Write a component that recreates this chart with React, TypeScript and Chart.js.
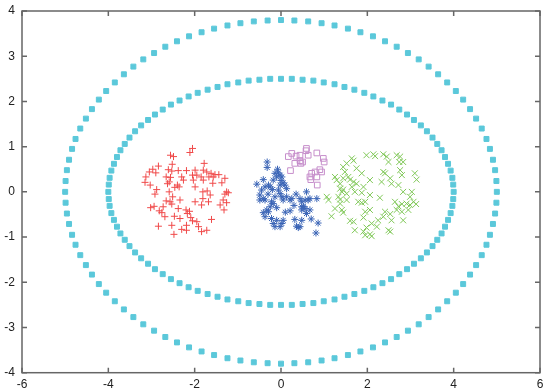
import { useEffect, useRef } from "react";
import { Chart, registerables } from "chart.js";

Chart.register(...registerables);

const xTickValues = [-6, -4, -2, 0, 2, 4, 6];
const yTickValues = [-4, -3, -2, -1, 0, 1, 2, 3, 4];

const outerRing: number[][] = [
  [5, 0], [4.99, 0.24], [4.96, 0.48], [4.91, 0.71], [4.84, 0.95], [4.76, 1.17], [4.65, 1.4], [4.52, 1.62], [4.38, 1.83], [4.22, 2.04], [4.05, 2.23], [3.85, 2.42], [3.64, 2.6], [3.42, 2.77], [3.19, 2.93], [2.94, 3.07], [2.68, 3.21], [2.41, 3.33], [2.13, 3.44], [1.84, 3.53], [1.55, 3.61], [1.24, 3.68], [0.94, 3.73], [0.63, 3.77], [0.31, 3.79],
  [0, 3.8], [-0.31, 3.79], [-0.63, 3.77], [-0.94, 3.73], [-1.24, 3.68], [-1.55, 3.61], [-1.84, 3.53], [-2.13, 3.44], [-2.41, 3.33], [-2.68, 3.21], [-2.94, 3.07], [-3.19, 2.93], [-3.42, 2.77], [-3.64, 2.6], [-3.85, 2.42], [-4.05, 2.23], [-4.22, 2.04], [-4.38, 1.83], [-4.52, 1.62], [-4.65, 1.4], [-4.76, 1.17], [-4.84, 0.95], [-4.91, 0.71], [-4.96, 0.48], [-4.99, 0.24],
  [-5, 0], [-4.99, -0.24], [-4.96, -0.48], [-4.91, -0.71], [-4.84, -0.95], [-4.76, -1.17], [-4.65, -1.4], [-4.52, -1.62], [-4.38, -1.83], [-4.22, -2.04], [-4.05, -2.23], [-3.85, -2.42], [-3.64, -2.6], [-3.42, -2.77], [-3.19, -2.93], [-2.94, -3.07], [-2.68, -3.21], [-2.41, -3.33], [-2.13, -3.44], [-1.84, -3.53], [-1.55, -3.61], [-1.24, -3.68], [-0.94, -3.73], [-0.63, -3.77], [-0.31, -3.79],
  [0, -3.8], [0.31, -3.79], [0.63, -3.77], [0.94, -3.73], [1.24, -3.68], [1.55, -3.61], [1.84, -3.53], [2.13, -3.44], [2.41, -3.33], [2.68, -3.21], [2.94, -3.07], [3.19, -2.93], [3.42, -2.77], [3.64, -2.6], [3.85, -2.42], [4.05, -2.23], [4.22, -2.04], [4.38, -1.83], [4.52, -1.62], [4.65, -1.4], [4.76, -1.17], [4.84, -0.95], [4.91, -0.71], [4.96, -0.48], [4.99, -0.24],
];

const innerRing: number[][] = [
  [4, 0], [3.99, 0.16], [3.97, 0.31], [3.93, 0.47], [3.87, 0.62], [3.8, 0.77], [3.72, 0.92], [3.62, 1.06], [3.51, 1.2], [3.38, 1.34], [3.24, 1.47], [3.08, 1.59], [2.92, 1.71], [2.74, 1.82], [2.55, 1.93], [2.35, 2.02], [2.14, 2.11], [1.93, 2.19], [1.7, 2.26], [1.47, 2.32], [1.24, 2.38], [0.99, 2.42], [0.75, 2.46], [0.5, 2.48], [0.25, 2.5],
  [0, 2.5], [-0.25, 2.5], [-0.5, 2.48], [-0.75, 2.46], [-0.99, 2.42], [-1.24, 2.38], [-1.47, 2.32], [-1.7, 2.26], [-1.93, 2.19], [-2.14, 2.11], [-2.35, 2.02], [-2.55, 1.93], [-2.74, 1.82], [-2.92, 1.71], [-3.08, 1.59], [-3.24, 1.47], [-3.38, 1.34], [-3.51, 1.2], [-3.62, 1.06], [-3.72, 0.92], [-3.8, 0.77], [-3.87, 0.62], [-3.93, 0.47], [-3.97, 0.31], [-3.99, 0.16],
  [-4, 0], [-3.99, -0.16], [-3.97, -0.31], [-3.93, -0.47], [-3.87, -0.62], [-3.8, -0.77], [-3.72, -0.92], [-3.62, -1.06], [-3.51, -1.2], [-3.38, -1.34], [-3.24, -1.47], [-3.08, -1.59], [-2.92, -1.71], [-2.74, -1.82], [-2.55, -1.93], [-2.35, -2.02], [-2.14, -2.11], [-1.93, -2.19], [-1.7, -2.26], [-1.47, -2.32], [-1.24, -2.38], [-0.99, -2.42], [-0.75, -2.46], [-0.5, -2.48], [-0.25, -2.5],
  [0, -2.5], [0.25, -2.5], [0.5, -2.48], [0.75, -2.46], [0.99, -2.42], [1.24, -2.38], [1.47, -2.32], [1.7, -2.26], [1.93, -2.19], [2.14, -2.11], [2.35, -2.02], [2.55, -1.93], [2.74, -1.82], [2.92, -1.71], [3.08, -1.59], [3.24, -1.47], [3.38, -1.34], [3.51, -1.2], [3.62, -1.06], [3.72, -0.92], [3.8, -0.77], [3.87, -0.62], [3.93, -0.47], [3.97, -0.31], [3.99, -0.16],
];

const redCluster: number[][] = [
  [-2.05, 0.96], [-2.11, 0.87], [-2.56, 0.81], [-2.49, 0.78], [-1.78, 0.63], [-2.52, 0.61], [-2.84, 0.57], [-2.97, 0.5], [-3.05, 0.44], [-2.9, 0.42],
  [-2.53, 0.46], [-2.38, 0.47], [-2.19, 0.47], [-1.99, 0.48], [-1.8, 0.48], [-1.72, 0.44], [-1.62, 0.41], [-1.53, 0.38], [-1.44, 0.38], [-3.13, 0.33],
  [-3.15, 0.21], [-2.66, 0.33], [-2.56, 0.32], [-2.3, 0.33], [-2.05, 0.37], [-1.95, 0.37], [-1.85, 0.33], [-1.67, 0.33], [-1.3, 0.3], [-2.03, 0.26],
  [-2.59, 0.22], [-2.4, 0.15], [-2.36, 0.11], [-2.46, 0.1], [-2.63, 0.18], [-3.03, 0.15], [-2.88, 0.05], [-2.92, -0.05], [-1.99, 0.11], [-1.58, 0.19],
  [-1.37, 0.2], [-1.81, 0.0], [-1.71, 0.02], [-1.26, 0.0], [-1.3, -0.05], [-1.22, -0.02], [-2.59, 0.0], [-2.51, -0.11], [-2.66, -0.2], [-2.57, -0.22],
  [-2.53, -0.27], [-1.81, -0.15], [-1.68, -0.22], [-1.99, -0.22], [-1.41, -0.29], [-1.26, -0.24], [-1.84, -0.29], [-2.94, -0.32], [-3.02, -0.35], [-2.38, -0.37],
  [-2.82, -0.42], [-2.76, -0.46], [-2.2, -0.4], [-2.12, -0.43], [-2.17, -0.48], [-1.32, -0.4], [-2.69, -0.55], [-2.47, -0.54], [-2.34, -0.59], [-2.09, -0.57],
  [-2.05, -0.64], [-1.61, -0.61], [-2.84, -0.76], [-2.53, -0.74], [-2.19, -0.74], [-1.91, -0.77], [-2.3, -0.83], [-2.19, -0.85], [-1.84, -0.88], [-1.72, -0.85],
  [-2.48, -0.94], [-1.95, -0.66], [-2.61, 0.49], [-2.26, 0.26], [-1.8, 0.26], [-1.57, 0.33], [-1.64, -0.07], [-2.73, -0.33], [-1.34, -0.18], [-2.34, -0.18],
];

const greenCluster: number[][] = [
  [1.64, 0.74], [1.68, 0.69], [1.52, 0.63], [1.98, 0.81], [2.14, 0.83], [2.18, 0.79], [2.37, 0.83], [2.45, 0.78], [2.49, 0.66], [2.68, 0.81],
  [2.76, 0.78], [2.74, 0.66], [2.83, 0.66], [1.44, 0.55], [1.48, 0.44], [1.75, 0.52], [1.87, 0.41], [1.25, 0.33], [1.29, 0.26], [1.37, 0.18],
  [1.44, 0.3], [1.56, 0.33], [1.6, 0.27], [1.68, 0.22], [1.75, 0.18], [2.06, 0.26], [2.37, 0.44], [2.41, 0.41], [2.76, 0.48], [2.8, 0.37],
  [2.53, 0.3], [2.56, 0.18], [2.33, 0.22], [2.72, 0.15], [2.83, 0.0], [3.1, 0.41], [3.14, 0.27], [1.37, 0.07], [1.41, 0.0], [1.44, 0.05],
  [1.52, -0.04], [1.64, 0.11], [1.71, 0.0], [1.91, 0.11], [1.87, -0.02], [1.06, -0.11], [1.1, -0.18], [1.33, -0.11], [1.37, -0.17], [1.52, -0.18],
  [1.79, -0.22], [1.87, -0.24], [1.95, -0.22], [2.29, -0.13], [2.64, -0.22], [2.72, -0.32], [2.8, -0.27], [2.91, -0.26], [2.99, -0.29], [3.07, -0.22],
  [3.13, -0.27], [1.25, -0.37], [1.41, -0.4], [1.44, -0.46], [1.6, -0.64], [1.68, -0.66], [1.17, -0.54], [1.95, -0.44], [2.06, -0.4], [2.25, -0.63],
  [2.37, -0.55], [2.41, -0.44], [2.53, -0.49], [2.68, -0.4], [2.8, -0.44], [2.56, -0.63], [2.83, -0.63], [1.91, -0.57], [2.1, -0.7], [1.98, -0.79],
  [2.22, -0.77], [1.91, -0.88], [1.95, -0.96], [2.06, -0.94], [2.1, -0.98], [1.71, -0.85], [2.49, -0.85], [2.53, -0.88], [3.03, 0.0], [2.95, -0.4],
  [2.99, -0.11], [2.06, -0.07], [1.37, -0.26],
];

const blueCluster: number[][] = [
  [-0.32, 0.66], [-0.32, 0.54], [-0.56, 0.17], [-0.41, 0.27], [-0.14, 0.41], [-0.06, 0.42], [-0.02, 0.37], [-0.1, 0.33], [0.02, 0.33], [-0.18, 0.26],
  [0.05, 0.2], [-0.29, 0.15], [-0.37, 0.11], [-0.25, 0.11], [-0.02, 0.15], [0.09, 0.15], [0.13, 0.07], [-0.06, 0.04], [-0.02, -0.04], [0.02, -0.11],
  [0.05, -0.18], [-0.49, -0.07], [-0.41, -0.15], [-0.37, -0.18], [-0.22, -0.22], [-0.18, -0.26], [-0.25, -0.33], [-0.33, -0.4], [-0.29, -0.44], [0.21, -0.18],
  [0.25, -0.15], [0.44, -0.15], [0.48, -0.22], [0.59, 0.0], [0.56, -0.18], [0.63, -0.18], [0.67, -0.15], [0.83, -0.15], [0.48, -0.33], [0.48, -0.4],
  [0.56, -0.37], [-0.41, -0.46], [-0.37, -0.55], [-0.22, -0.59], [-0.1, -0.63], [0.02, -0.7], [-0.02, -0.77], [-0.18, -0.7], [-0.14, -0.77], [0.05, -0.63],
  [0.21, -0.42], [0.32, -0.61], [0.48, -0.63], [0.36, -0.76], [0.4, -0.79], [0.44, -0.77], [0.86, -0.69], [0.81, -0.91], [0.67, -0.4], [-0.49, -0.18],
  [-0.45, 0.04], [0.13, -0.11], [-0.14, -0.11], [0.52, -0.32], [0.59, -0.48], [-0.08, 0.5], [0.0, 0.25], [-0.3, -0.05], [0.3, -0.3], [0.1, -0.45],
  [-0.1, -0.35], [0.7, -0.6], [0.35, -0.05], [-0.2, 0.05],
];

const purpleCluster: number[][] = [
  [0.25, 0.85], [0.35, 0.79], [0.44, 0.81], [0.59, 0.96], [0.58, 0.91], [0.63, 0.81], [0.83, 0.86], [0.98, 0.74], [1.0, 0.66], [0.17, 0.78],
  [0.32, 0.63], [0.44, 0.69], [0.5, 0.66], [0.46, 0.63], [0.22, 0.47], [0.71, 0.41], [0.67, 0.33], [0.79, 0.44], [0.9, 0.49], [0.94, 0.44],
  [0.83, 0.33], [0.69, 0.27], [0.84, 0.15],
];

const toPoints = (arr: number[][]) => arr.map(([x, y]) => ({ x, y }));

const zeroPadding = (s: any) => {
  s.paddingLeft = 0;
  s.paddingRight = 0;
  s.paddingTop = 0;
  s.paddingBottom = 0;
};

export default function App() {
  const ref = useRef<HTMLCanvasElement | null>(null);

  useEffect(() => {
    document.body.style.margin = "0";
    const canvas = ref.current;
    if (!canvas) return;

    const frame = {
      id: "frame",
      afterDraw(chart: any) {
        const { ctx, chartArea: a, scales } = chart;
        ctx.save();
        ctx.strokeStyle = "#666666";
        ctx.lineWidth = 1.5;
        ctx.strokeRect(a.left, a.top, a.right - a.left, a.bottom - a.top);
        ctx.beginPath();
        const t = 5;
        for (const v of xTickValues) {
          const px = scales.x.getPixelForValue(v);
          ctx.moveTo(px, a.bottom);
          ctx.lineTo(px, a.bottom - t);
          ctx.moveTo(px, a.top);
          ctx.lineTo(px, a.top + t);
        }
        for (const v of yTickValues) {
          const py = scales.y.getPixelForValue(v);
          ctx.moveTo(a.left, py);
          ctx.lineTo(a.left + t, py);
          ctx.moveTo(a.right, py);
          ctx.lineTo(a.right - t, py);
        }
        ctx.stroke();
        ctx.restore();
      },
    };

    const font = { family: "'Liberation Sans', Arial, sans-serif", size: 12 };

    const chart = new Chart(canvas, {
      type: "scatter",
      data: {
        datasets: [
          { data: toPoints(redCluster), pointStyle: "cross", pointRadius: 3.5, borderColor: "#F04A4A", backgroundColor: "#F04A4A", borderWidth: 1 },
          { data: toPoints(greenCluster), pointStyle: "crossRot", pointRadius: 4.2, borderColor: "#80C858", backgroundColor: "#80C858", borderWidth: 1 },
          { data: toPoints(blueCluster), pointStyle: "star", pointRadius: 3.5, borderColor: "#3A64B6", backgroundColor: "#3A64B6", borderWidth: 1 },
          { data: toPoints(purpleCluster), pointStyle: "rect", pointRadius: 4, borderColor: "#C68ECB", backgroundColor: "rgba(0,0,0,0)", borderWidth: 1 },
          { data: toPoints(outerRing), pointStyle: "rect", pointRadius: 3.5, borderColor: "#5BC8DA", backgroundColor: "#5BC8DA", borderWidth: 1 },
          { data: toPoints(innerRing), pointStyle: "rect", pointRadius: 3.5, borderColor: "#5BC8DA", backgroundColor: "#5BC8DA", borderWidth: 1 },
        ],
      } as any,
      options: {
        animation: false,
        responsive: false,
        events: [],
        layout: {
          autoPadding: false,
          padding: { top: 11, right: 3, left: 0, bottom: 0 },
        } as any,
        plugins: { legend: { display: false }, tooltip: { enabled: false } },
        scales: {
          x: {
            type: "linear",
            min: -6,
            max: 6,
            afterFit: (s: any) => { s.height = 16.3; zeroPadding(s); },
            afterBuildTicks: (s: any) => { s.ticks = xTickValues.map((v) => ({ value: v })); },
            ticks: { font, color: "#222", padding: 5, maxRotation: 0 },
            grid: { display: false, drawTicks: false },
            border: { display: false },
          },
          y: {
            type: "linear",
            min: -4,
            max: 4,
            afterFit: (s: any) => { s.width = 22; zeroPadding(s); },
            afterBuildTicks: (s: any) => { s.ticks = yTickValues.map((v) => ({ value: v })); },
            ticks: { font, color: "#222", padding: 7 },
            grid: { display: false, drawTicks: false },
            border: { display: false },
          },
        },
      } as any,
      plugins: [frame],
    });

    return () => chart.destroy();
  }, []);

  return (
    <div style={{ position: "absolute", left: 0, top: 0, width: 543, height: 389 }}>
      <canvas ref={ref} width={543} height={389} style={{ display: "block" }} />
    </div>
  );
}
